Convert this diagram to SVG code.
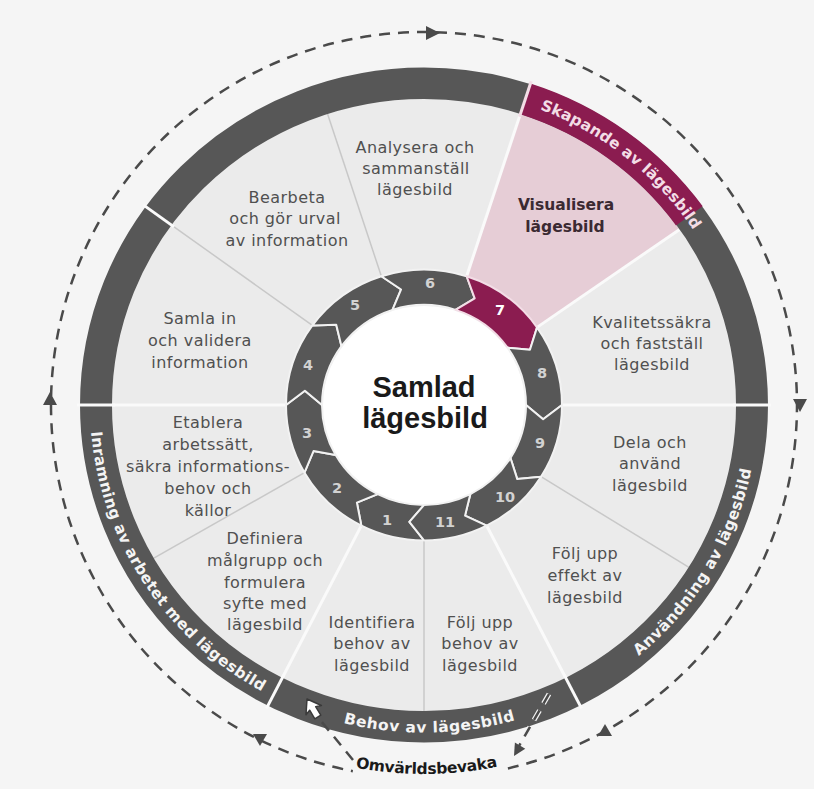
<svg xmlns="http://www.w3.org/2000/svg" width="814" height="789" viewBox="0 0 814 789">
<defs>
<style>
.lbl{font-family:"DejaVu Sans","Liberation Sans",sans-serif;font-size:16px;letter-spacing:0.45px;fill:#505050;text-anchor:middle}
.vis{font-family:"DejaVu Sans","Liberation Sans",sans-serif;font-size:15.5px;font-weight:bold;fill:#3b2a32;text-anchor:middle}
.num{font-family:"DejaVu Sans","Liberation Sans",sans-serif;font-size:14.5px;font-weight:bold;fill:#d2d2d2;text-anchor:middle}
.seg{fill:#575757;stroke:#f2f2f2;stroke-width:2;stroke-linejoin:round}
.band{font-family:"DejaVu Sans","Liberation Sans",sans-serif;font-size:15.5px;font-weight:bold;fill:#f4f4f4}
.gl{stroke:#c8c8c8;stroke-width:1.5}
.wl{stroke:#fafafa;stroke-width:3}
.dash{fill:none;stroke:#4a4a4a;stroke-width:2.5;stroke-dasharray:11 8}
.halo{fill:none;stroke:#f2f2f2;stroke-width:5;stroke-dasharray:11 8}
.tri{fill:#4a4a4a}
</style>
<path id="pSkap" d="M115.75,-301.55 A323,323 0 0 1 270.89,-175.92"/>
<path id="pInr" d="M-333.19,23.30 A334,334 0 0 0 -156.80,294.91"/>
<path id="pBeh" d="M-80.80,324.08 A334,334 0 0 0 92.06,321.06"/>
<path id="pAnv" d="M214.69,255.86 A334,334 0 0 0 327.86,63.73"/>
<path id="pOmv" d="M353.59,767.22 A369,369 0 0 0 500.72,765.94"/>
</defs>
<rect x="0" y="0" width="814" height="789" fill="#f5f5f5"/>

<g id="wheel" transform="translate(424,405) scale(1,0.981)">
  <circle r="312" fill="#ebebeb"/>
  <path d="M42.64,-131.25 L96.41,-296.73 A312,312 0 0 1 255.57,-178.96 L113.04,-79.15 A138,138 0 0 0 42.64,-131.25 Z" fill="#e6cdd6"/>
  <g id="sector-lines">
    <line class="gl" x1="117.03" y1="73.13" x2="264.59" y2="165.33"/>
    <line class="gl" x1="0" y1="138" x2="0" y2="312"/>
    <line class="gl" x1="-119.51" y1="69" x2="-270.20" y2="156"/>
    <line class="gl" x1="-111.64" y1="-81.11" x2="-252.41" y2="-183.39"/>
    <line class="gl" x1="-42.64" y1="-131.25" x2="-96.41" y2="-296.73"/>
    <line class="wl" x1="138" y1="0" x2="312" y2="0"/>
    <line class="wl" x1="62.65" y1="122.96" x2="141.64" y2="277.99"/>
    <line class="wl" x1="-62.65" y1="122.96" x2="-141.64" y2="277.99"/>
    <line class="wl" x1="-138" y1="0" x2="-312" y2="0"/>
    <line class="wl" x1="42.64" y1="-131.25" x2="96.41" y2="-296.73"/>
    <line class="wl" x1="113.04" y1="-79.15" x2="255.57" y2="-178.96"/>
  </g>
  <g id="phase-ring">
    <circle r="328" fill="none" stroke="#575757" stroke-width="32"/>
    <path d="M101.36,-311.95 A328,328 0 0 1 265.36,-192.79" fill="none" stroke="#8b1c50" stroke-width="33"/>
    <line class="wl" x1="309" y1="0" x2="347" y2="0"/>
    <line class="wl" x1="140.28" y1="275.32" x2="157.53" y2="309.18"/>
    <line class="wl" x1="-140.28" y1="275.32" x2="-157.53" y2="309.18"/>
    <line class="wl" x1="-309" y1="0" x2="-347" y2="0"/>
    <line class="wl" x1="-249.99" y1="-181.63" x2="-280.73" y2="-203.96"/>
    <line x1="95.49" y1="-293.88" x2="107.23" y2="-330.02" stroke="#f3dde6" stroke-width="3"/>
  </g>
  <g id="phase-skapande"><text class="band" style="fill:#f3dde6"><textPath href="#pSkap" textLength="200" lengthAdjust="spacing">Skapande av lägesbild</textPath></text></g>
  <g id="phase-inramning"><text class="band"><textPath href="#pInr" textLength="328" lengthAdjust="spacing" startOffset="4">Inramning av arbetet med lägesbild</textPath></text></g>
  <g id="phase-behov"><text class="band"><textPath href="#pBeh" textLength="174" lengthAdjust="spacing">Behov av lägesbild</textPath></text></g>
  <g id="phase-anvandning"><text class="band"><textPath href="#pAnv" textLength="225" lengthAdjust="spacing">Användning av lägesbild</textPath></text></g>
  <g id="arrow-ring">
    <path class="seg" d="M0,138 A138,138 0 0 1 -62.65,122.96 L-67.10,99.48 L-46.31,90.88 A102,102 0 0 0 0,102 L-14.62,119.11 Z"/>
    <path class="seg" d="M-62.65,122.96 A138,138 0 0 1 -119.51,69 L-110.46,46.89 L-88.33,51 A102,102 0 0 0 -46.31,90.88 L-67.10,99.48 Z"/>
    <path class="seg" d="M-119.51,69 A138,138 0 0 1 -138,0 L-119.11,-14.62 L-102,0 A102,102 0 0 0 -88.33,51 L-110.46,46.89 Z"/>
    <path class="seg" d="M-138,0 A138,138 0 0 1 -111.64,-81.11 L-87.76,-81.84 L-82.52,-59.95 A102,102 0 0 0 -102,0 L-119.11,-14.62 Z"/>
    <path class="seg" d="M-111.64,-81.11 A138,138 0 0 1 -42.64,-131.25 L-22.90,-117.80 L-31.52,-97.01 A102,102 0 0 0 -82.52,-59.95 L-87.76,-81.84 Z"/>
    <path class="seg" d="M-42.64,-131.25 A138,138 0 0 1 42.64,-131.25 L50.71,-108.76 L31.52,-97.01 A102,102 0 0 0 -31.52,-97.01 L-22.90,-117.80 Z"/>
    <path class="seg" style="fill:#8b1c50;stroke:#f3dde6" d="M42.64,-131.25 A138,138 0 0 1 113.04,-79.15 L105.95,-56.34 L83.55,-58.51 A102,102 0 0 0 31.52,-97.01 L50.71,-108.76 Z"/>
    <path class="seg" d="M113.04,-79.15 A138,138 0 0 1 138,0 L119.11,14.62 L102,0 A102,102 0 0 0 83.55,-58.51 L105.95,-56.34 Z"/>
    <path class="seg" d="M138,0 A138,138 0 0 1 117.03,73.13 L93.26,75.52 L86.50,54.05 A102,102 0 0 0 102,0 L119.11,14.62 Z"/>
    <path class="seg" d="M117.03,73.13 A138,138 0 0 1 62.65,122.96 L41.04,112.76 L46.31,90.88 A102,102 0 0 0 86.50,54.05 L93.26,75.52 Z"/>
    <path class="seg" d="M62.65,122.96 A138,138 0 0 1 0,138 L-14.62,119.11 L0,102 A102,102 0 0 0 46.31,90.88 L41.04,112.76 Z"/>
  </g>
  <circle r="101" fill="#ffffff"/>
</g>

<g id="numbers">
  <text class="num" x="387" y="525">1</text>
  <text class="num" x="337" y="493">2</text>
  <text class="num" x="307" y="438">3</text>
  <text class="num" x="308" y="370">4</text>
  <text class="num" x="355" y="310">5</text>
  <text class="num" x="430" y="288">6</text>
  <text class="num" x="500" y="315" style="fill:#ffffff">7</text>
  <text class="num" x="542" y="378">8</text>
  <text class="num" x="540" y="448">9</text>
  <text class="num" x="505" y="502">10</text>
  <text class="num" x="445" y="527">11</text>
</g>

<g id="center">
  <text text-anchor="middle" font-family="'Liberation Sans',Arial,sans-serif" font-size="29" font-weight="bold" fill="#1a1a1a"><tspan x="424" y="397">Samlad</tspan><tspan x="425" y="428">lägesbild</tspan></text>
</g>

<g id="step1"><text class="lbl"><tspan x="372" y="628">Identifiera</tspan><tspan x="372" y="649">behov av</tspan><tspan x="372" y="671">lägesbild</tspan></text></g>
<g id="step2"><text class="lbl"><tspan x="265" y="544">Definiera</tspan><tspan x="265" y="566">målgrupp och</tspan><tspan x="265" y="588">formulera</tspan><tspan x="265" y="609">syfte med</tspan><tspan x="265" y="630">lägesbild</tspan></text></g>
<g id="step3"><text class="lbl"><tspan x="208" y="428">Etablera</tspan><tspan x="208" y="450">arbetssätt,</tspan><tspan x="208" y="472">säkra informations-</tspan><tspan x="208" y="494">behov och</tspan><tspan x="208" y="516">källor</tspan></text></g>
<g id="step4"><text class="lbl"><tspan x="200" y="324">Samla in</tspan><tspan x="200" y="346">och validera</tspan><tspan x="200" y="368">information</tspan></text></g>
<g id="step5"><text class="lbl"><tspan x="287" y="203">Bearbeta</tspan><tspan x="285" y="224">och gör urval</tspan><tspan x="287" y="246">av information</tspan></text></g>
<g id="step6"><text class="lbl"><tspan x="415" y="153">Analysera och</tspan><tspan x="416" y="174">sammanställ</tspan><tspan x="415" y="195">lägesbild</tspan></text></g>
<g id="step7"><text class="vis"><tspan x="566" y="210">Visualisera</tspan><tspan x="565" y="232">lägesbild</tspan></text></g>
<g id="step8"><text class="lbl"><tspan x="652" y="328">Kvalitetssäkra</tspan><tspan x="652" y="349">och fastställ</tspan><tspan x="652" y="370">lägesbild</tspan></text></g>
<g id="step9"><text class="lbl"><tspan x="650" y="448">Dela och</tspan><tspan x="650" y="469">använd</tspan><tspan x="650" y="491">lägesbild</tspan></text></g>
<g id="step10"><text class="lbl"><tspan x="585" y="559">Följ upp</tspan><tspan x="585" y="581">effekt av</tspan><tspan x="585" y="603">lägesbild</tspan></text></g>
<g id="step11"><text class="lbl"><tspan x="480" y="628">Följ upp</tspan><tspan x="480" y="649">behov av</tspan><tspan x="480" y="671">lägesbild</tspan></text></g>

<g id="omvarld">
  <text font-family="'DejaVu Sans',sans-serif" font-size="15.5" font-weight="bold" fill="#1a1a1a"><textPath href="#pOmv" textLength="143" lengthAdjust="spacing" startOffset="2">Omvärldsbevaka</textPath></text>
</g>

<g id="connectors">
  <path class="dash" d="M507.91,768.44 A373,373 0 1 0 352.83,771.15"/>
  <polygon class="tri" points="426,26 440,33 426,40"/>
  <polygon class="tri" points="793,399 807,399 800,412"/>
  <polygon class="tri" points="43,405 57,405 50,392"/>
  <polygon class="tri" points="253,734 267,734 260,746"/>
  <polygon class="tri" points="598,736 612,736 605,724"/>
  <path class="halo" d="M549,694 L519,746"/>
  <path class="dash" d="M549,694 L519,746"/>
  <polygon class="tri" points="514,756 525.25,748.68 514.89,742.6"/>
  <path class="dash" d="M353,760 L321,721"/>
  <polygon transform="translate(307,699) rotate(-31)" points="0,0 9,13 3.5,11 3.5,21 -3.5,21 -3.5,11 -9,13" fill="#ffffff" stroke="#3a3a3a" stroke-width="1.5" stroke-linejoin="round"/>
</g>
</svg>
